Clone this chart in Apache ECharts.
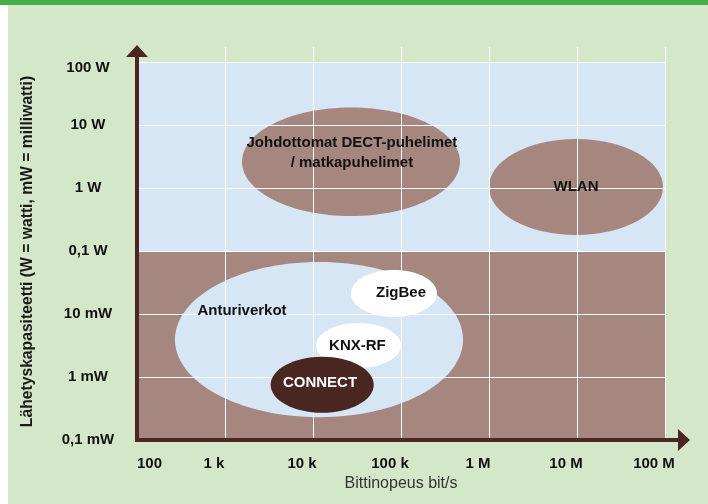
<!DOCTYPE html>
<html><head><meta charset="utf-8">
<script src="https://cdn.jsdelivr.net/npm/echarts@6/dist/echarts.min.js"></script>
<style>
html,body{margin:0;padding:0;background:#fff}
#c{width:708px;height:504px;background:#d5e7c9;box-shadow:inset 0 5px 0 #46ae46, inset 8px 0 0 #fff;}
</style></head><body><div id="c"></div>
<script>
// X axis: bit rate (bit/s), log scale
const xTickValues = [1e2, 1e3, 1e4, 1e5, 1e6, 1e7, 1e8];
const xTickLabels = ['100', '1 k', '10 k', '100 k', '1 M', '10 M', '100 M'];
// Y axis: transmit power (W), log scale
const yTickValues = [1e-4, 1e-3, 1e-2, 1e-1, 1, 10, 100];
const yTickLabels = ['0,1 mW', '1 mW', '10 mW', '0,1 W', '1 W', '10 W', '100 W'];
const yAxisTop = 173; // axis runs a little above 100 W (arrow)
// Background bands (power ranges)
const bandYMin = [0.1, 1e-4];
const bandYMax = [100, 0.1];
// Technology areas: bit rate range (bit/s) and power range (W)
const areaNames = ['Johdottomat DECT-puhelimet\n/ matkapuhelimet', 'WLAN', 'Anturiverkot', 'ZigBee', 'KNX-RF', 'CONNECT'];
const areaXMin = [1560, 1.0e6, 270, 27000, 10800, 3300];
const areaXMax = [468000, 9.5e7, 507000, 256000, 100000, 49000];
const areaYMin = [0.36, 0.18, 0.00023, 0.009, 0.0014, 0.00027];
const areaYMax = [19, 6, 0.067, 0.05, 0.0072, 0.0021];
// Label anchor of each area
const labelX = [27700, 9.75e6, 1560, 100000, 32000, 12000];
const labelY = [3.6, 1.04, 0.0112, 0.0215, 0.0031, 0.0008];

const FONT = '"Liberation Sans", Arial, sans-serif';
const areaFill = ['#a6877f', '#a6877f', '#d7e6f5', '#ffffff', '#ffffff', '#4a2620'];
const labelFill = ['#111', '#111', '#111', '#111', '#111', '#ffffff'];
const bandFill = ['#d7e6f5', '#a6877f'];
const axisColor = '#4a2721';

function tickIndex(v, values) {
  const lg = Math.log10(v);
  for (let i = 0; i < values.length; i++) {
    if (Math.abs(Math.log10(values[i]) - lg) < 1e-6) return i;
  }
  return -1;
}

function ellipseItem(params, api) {
  const p1 = api.coord([api.value(0), api.value(2)]);
  const p2 = api.coord([api.value(1), api.value(3)]);
  return {
    type: 'ellipse',
    shape: { cx: (p1[0] + p2[0]) / 2, cy: (p1[1] + p2[1]) / 2, rx: Math.abs(p2[0] - p1[0]) / 2, ry: Math.abs(p2[1] - p1[1]) / 2 },
    style: api.style()
  };
}

function areaData(idx) {
  return idx.map(i => ({ value: [areaXMin[i], areaXMax[i], areaYMin[i], areaYMax[i]], itemStyle: { color: areaFill[i] } }));
}

const chart = echarts.init(document.getElementById('c'), null, { renderer: 'canvas' });
chart.setOption({
  animation: false,
  backgroundColor: 'transparent',
  grid: { left: 137, right: 43, top: 47, bottom: 64 },
  xAxis: {
    type: 'log', logBase: 10, min: xTickValues[0], max: xTickValues[xTickValues.length - 1], z: 3,
    axisLine: { show: false }, axisTick: { show: false },
    splitLine: { show: true, lineStyle: { color: '#ffffff', width: 1 } },
    axisLabel: {
      margin: 16, fontSize: 15, fontWeight: 'bold', color: '#111', fontFamily: FONT,
      padding: [0, 22, 0, 0], alignMinLabel: 'left',
      formatter: v => { const i = tickIndex(v, xTickValues); return i < 0 ? '' : xTickLabels[i]; }
    },
    name: 'Bittinopeus bit/s', nameLocation: 'middle', nameGap: 36,
    nameTextStyle: { fontSize: 16, color: '#333', fontFamily: FONT }
  },
  yAxis: {
    type: 'log', logBase: 10, min: yTickValues[0], max: yAxisTop, z: 3,
    axisLine: { show: false }, axisTick: { show: false }, splitLine: { show: false },
    axisLabel: {
      margin: 49, align: 'center', fontSize: 15, fontWeight: 'bold', color: '#111', fontFamily: FONT,
      showMaxLabel: false,
      formatter: v => {
        const i = tickIndex(v, yTickValues);
        if (i < 0) return '';
        return i === yTickValues.length - 1 ? '{top|' + yTickLabels[i] + '}' : yTickLabels[i];
      },
      rich: { top: { fontSize: 15, fontWeight: 'bold', color: '#111', fontFamily: FONT, padding: [12, 0, 0, 0] } }
    },
    name: 'Lähetyskapasiteetti (W = watti, mW = milliwatti)', nameLocation: 'middle', nameGap: 101, nameRotate: 90,
    nameTextStyle: { fontSize: 15.7, fontWeight: 'bold', color: '#1a1a1a', fontFamily: FONT, padding: [0, 16, 0, 0] }
  },
  series: [
    {
      type: 'custom', name: 'bands', z: 1, silent: true,
      data: bandYMin.map((v, i) => ({ value: [v, bandYMax[i]], itemStyle: { color: bandFill[i] } })),
      renderItem: (params, api) => {
        const p1 = api.coord([xTickValues[0], api.value(0)]);
        const p2 = api.coord([xTickValues[xTickValues.length - 1], api.value(1)]);
        return { type: 'rect', shape: { x: p1[0], y: p2[1], width: p2[0] - p1[0], height: p1[1] - p2[1] }, style: api.style() };
      }
    },
    { type: 'custom', name: 'areas', z: 2, silent: true, data: areaData([0, 1, 2]), renderItem: ellipseItem },
    {
      type: 'custom', name: 'hgrid', z: 3, silent: true,
      data: yTickValues.map(v => [v]),
      renderItem: (params, api) => {
        const p1 = api.coord([xTickValues[0], api.value(0)]);
        const p2 = api.coord([xTickValues[xTickValues.length - 1], api.value(0)]);
        const y = Math.round(p1[1]) + 0.5;
        return { type: 'line', shape: { x1: p1[0], y1: y, x2: p2[0], y2: y }, style: { stroke: '#ffffff', lineWidth: 1 } };
      }
    },
    { type: 'custom', name: 'subareas', z: 4, silent: true, data: areaData([3, 4, 5]), renderItem: ellipseItem },
    {
      type: 'custom', name: 'labels', z: 5, silent: true,
      data: labelX.map((x, i) => [x, labelY[i]]),
      renderItem: (params, api) => {
        const i = params.dataIndex;
        const p = api.coord([api.value(0), api.value(1)]);
        return {
          type: 'text', x: p[0], y: p[1],
          style: { text: areaNames[i], fill: labelFill[i], font: 'bold 15px ' + FONT, align: 'center', verticalAlign: 'middle', lineHeight: 20 }
        };
      }
    }
  ]
});

const o = chart.convertToPixel({ gridIndex: 0 }, [xTickValues[0], yTickValues[0]]);
const e = chart.convertToPixel({ gridIndex: 0 }, [xTickValues[xTickValues.length - 1], yAxisTop]);
chart.setOption({
  graphic: [
    { type: 'line', z: 10, shape: { x1: o[0], y1: o[1] + 2, x2: o[0], y2: e[1] + 10 }, style: { stroke: axisColor, lineWidth: 4 } },
    { type: 'polygon', z: 10, shape: { points: [[o[0], e[1] - 2], [o[0] - 11, e[1] + 10], [o[0] + 11, e[1] + 10]] }, style: { fill: axisColor } },
    { type: 'line', z: 10, shape: { x1: o[0] - 2, y1: o[1], x2: e[0] + 14, y2: o[1] }, style: { stroke: axisColor, lineWidth: 4 } },
    { type: 'polygon', z: 10, shape: { points: [[e[0] + 25, o[1]], [e[0] + 13, o[1] - 11], [e[0] + 13, o[1] + 11]] }, style: { fill: axisColor } }
  ]
});
</script></body></html>
